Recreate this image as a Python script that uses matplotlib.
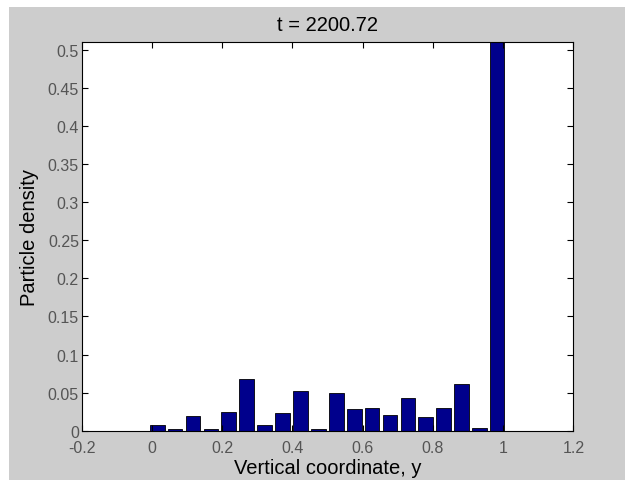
import matplotlib
matplotlib.use('Agg')
import matplotlib.pyplot as plt
from matplotlib.patches import Rectangle

# centros de las barras (coordenada vertical y)
centros = [0.015, 0.066, 0.117, 0.168, 0.219, 0.270, 0.321, 0.372, 0.423, 0.474,
           0.525, 0.576, 0.627, 0.678, 0.729, 0.780, 0.831, 0.882, 0.933, 0.983]
# densidad de particulas
densidad = [0.008, 0.002, 0.019, 0.002, 0.0245, 0.068, 0.008, 0.023, 0.0525, 0.002,
            0.049, 0.029, 0.030, 0.021, 0.043, 0.018, 0.030, 0.061, 0.004, 0.52]

xticks = [-0.2, 0, 0.2, 0.4, 0.6, 0.8, 1, 1.2]
xlabels = ['-0.2', '0', '0.2', '0.4', '0.6', '0.8', '1', '1.2']
yticks = [0, 0.05, 0.1, 0.15, 0.2, 0.25, 0.3, 0.35, 0.4, 0.45, 0.5]
ylabels = ['0', '0.05', '0.1', '0.15', '0.2', '0.25', '0.3', '0.35', '0.4', '0.45', '0.5']

plt.rcParams['font.family'] = ['Liberation Sans', 'DejaVu Sans']

fig = plt.figure(figsize=(6.25, 4.81), dpi=100, facecolor='white')
# fondo gris estilo MATLAB
fig.patches.append(Rectangle((9/625, 0), 1, 1 - 8/481, transform=fig.transFigure,
                             facecolor='#cdcdcd', edgecolor='none', zorder=-1))

ax = fig.add_axes([0.1307, 0.1025, 0.7866, 0.8075])
ax.bar(centros, densidad, width=0.042, color='#00008c', edgecolor='black', linewidth=0.6)
ax.set_xlim(-0.2, 1.2)
ax.set_ylim(0, 0.51)
ax.set_xticks(xticks)
ax.set_xticklabels(xlabels)
ax.set_yticks(yticks)
ax.set_yticklabels(ylabels)
ax.tick_params(direction='in', length=4, width=0.8, top=True, right=True,
               labelsize=11.5, labelcolor='#555555')
ax.tick_params(axis='x', pad=7)
ax.tick_params(axis='y', pad=2)
for s in ax.spines.values():
    s.set_linewidth(0.8)
ax.set_title('t = 2200.72', fontsize=14.5, pad=9)
ax.set_xlabel('Vertical coordinate, y', fontsize=14.5, labelpad=2)
ax.set_ylabel('Particle density', fontsize=14.5, labelpad=6)

plt.savefig('out.png', dpi=100, facecolor=fig.get_facecolor())
